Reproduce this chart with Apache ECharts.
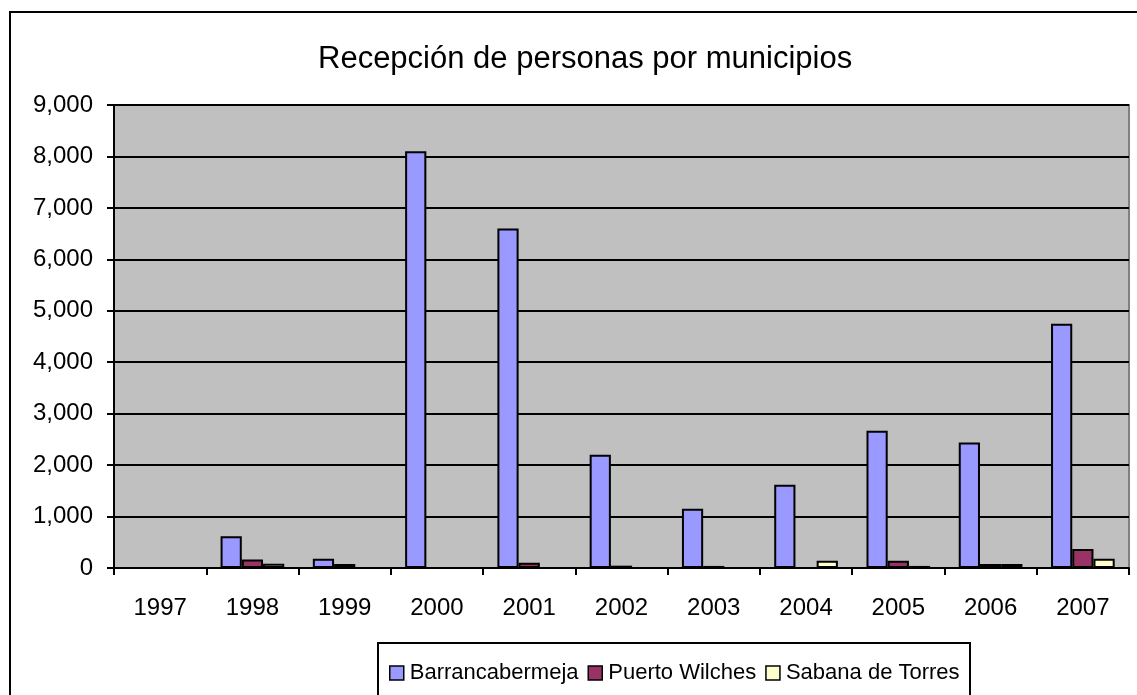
<!DOCTYPE html>
<html>
<head>
<meta charset="utf-8">
<script src="https://cdn.jsdelivr.net/npm/echarts@6/dist/echarts.min.js"></script>
<style>
  html, body { margin: 0; padding: 0; background: #fff; }
  #chart { width: 1137px; height: 695px; }
</style>
</head>
<body>
<div id="chart"></div>
<script>
const years = ['1997', '1998', '1999', '2000', '2001', '2002', '2003', '2004', '2005', '2006', '2007']
const barranca = [0, 615, 180, 8100, 6600, 2200, 1150, 1620, 2670, 2440, 4750]
const puertoWilches = [0, 165, 80, 0, 100, 45, 40, 0, 140, 80, 370]
const sabanaTorres = [0, 85, 0, 0, 0, 0, 0, 140, 40, 80, 180]

const font = 'Liberation Sans, Arial, sans-serif'

function makeSeries(name, data, color) {
  return {
    name: name,
    type: 'bar',
    data: data,
    barGap: '0%',
    barCategoryGap: '31%',
    itemStyle: { color: color, borderColor: '#000', borderWidth: 2 }
  }
}

const chart = echarts.init(document.getElementById('chart'))
chart.setOption({
  animation: false,
  title: {
    text: 'Recepción de personas por municipios',
    left: 313,
    top: 39,
    textStyle: { fontFamily: font, fontSize: 31, fontWeight: 'normal', color: '#000' }
  },
  graphic: [
    {
      type: 'rect',
      shape: { x: 10, y: 12, width: 1140, height: 700 },
      style: { fill: 'none', stroke: '#000', lineWidth: 2 },
      z: -1
    },
    {
      type: 'rect',
      shape: { x: 378, y: 643, width: 592, height: 70 },
      style: { fill: '#fff', stroke: '#000', lineWidth: 2 },
      z: 0
    }
  ],
  legend: {
    left: 384,
    top: 657,
    z: 5,
    itemWidth: 14,
    itemHeight: 14,
    itemGap: 9,
    icon: 'rect',
    textStyle: { fontFamily: font, fontSize: 22, lineHeight: 22, color: '#000', padding: [0, 0, 0, 1] },
    itemStyle: { borderColor: '#000', borderWidth: 1.5 }
  },
  grid: {
    left: 114,
    right: 8,
    top: 105,
    bottom: 127,
    show: true,
    backgroundColor: '#c0c0c0',
    borderColor: '#808080',
    borderWidth: 2
  },
  xAxis: {
    type: 'category',
    data: years,
    axisLine: { lineStyle: { color: '#000', width: 2 } },
    axisTick: { show: true, length: 7, lineStyle: { color: '#000', width: 2 } },
    axisLabel: { fontFamily: font, fontSize: 24, color: '#000', margin: 28 }
  },
  yAxis: {
    type: 'value',
    min: 0,
    max: 9000,
    interval: 1000,
    axisLine: { show: true, lineStyle: { color: '#000', width: 2 } },
    axisTick: { show: true, length: 7, lineStyle: { color: '#000', width: 2 } },
    splitLine: { lineStyle: { color: '#000', width: 2 } },
    axisLabel: {
      fontFamily: font,
      fontSize: 24,
      color: '#000',
      margin: 21,
      formatter: v => v.toLocaleString('en-US')
    }
  },
  series: [
    makeSeries('Barrancabermeja', barranca, '#9999ff'),
    makeSeries('Puerto Wilches', puertoWilches, '#993366'),
    makeSeries('Sabana de Torres', sabanaTorres, '#ffffcc')
  ]
})
</script>
</body>
</html>
